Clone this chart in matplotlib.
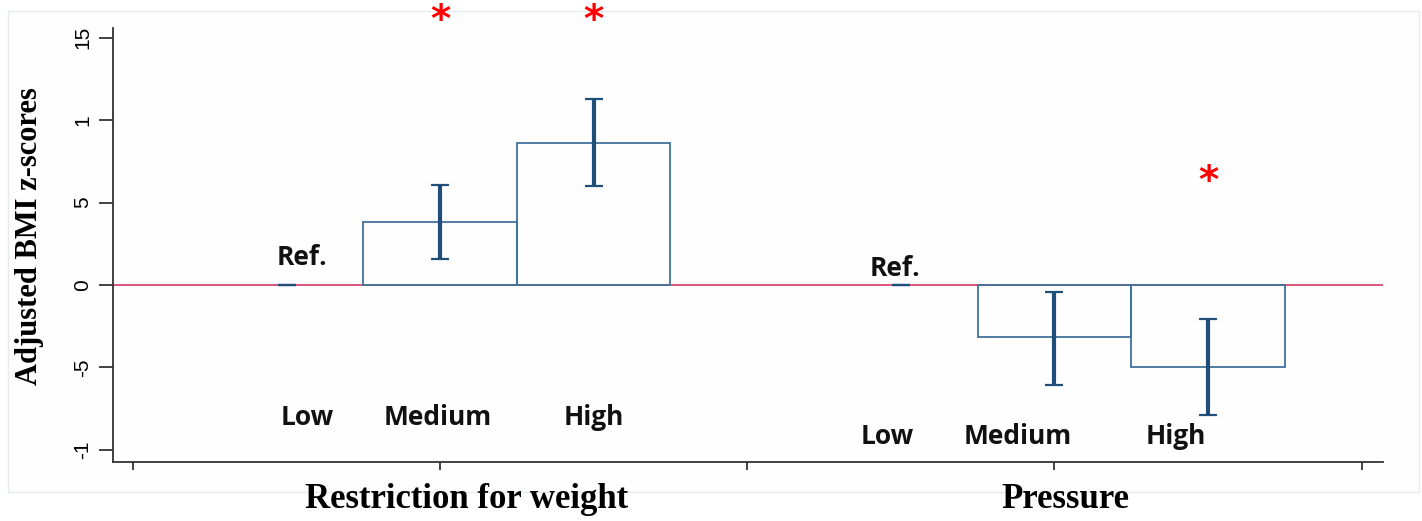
import matplotlib
matplotlib.use("Agg")
import matplotlib.pyplot as plt
from matplotlib.patches import Rectangle

# ---- data ----
groups = ["Restriction for weight", "Pressure"]
levels = ["Low", "Medium", "High"]
restriction_vals = [0.0, 0.384, 0.862]
restriction_lo = [0.0, 0.156, 0.600]
restriction_hi = [0.0, 0.606, 1.125]
pressure_vals = [0.0, -0.316, -0.495]
pressure_lo = [0.0, -0.606, -0.788]
pressure_hi = [0.0, -0.040, -0.208]
ytick_vals = [-1, -0.5, 0, 0.5, 1, 1.5]
ytick_labels = ["-1", "-5", "0", "5", "1", "15"]
ref_label = "Ref."
star = "*"

W, H = 1422, 521
fig = plt.figure(figsize=(W / 100, H / 100), dpi=100)
fig.patch.set_facecolor("white")
fig.add_artist(Rectangle((8 / W, 1 - 492 / H), (1419 - 8) / W, (492 - 11) / H,
                         transform=fig.transFigure, facecolor="#fefefe",
                         edgecolor="#e4ecee", lw=1.0, zorder=0))

ax = fig.add_axes([113 / W, 1 - 462 / H, (1383 - 113) / W, (462 - 28) / H])
ax.set_facecolor("none")
ax.set_xlim(-0.065, 4.07)
ax.set_ylim(-1.073, 1.558)

for s in ["top", "right"]:
    ax.spines[s].set_visible(False)
for s in ["left", "bottom"]:
    ax.spines[s].set_color("#333333")
    ax.spines[s].set_linewidth(1.3)

ax.axhline(0, color="#d9466c", lw=1.3, zorder=1)

bar_w = 0.5
edge = "#41719c"
err_c = "#1f4e79"
group_x = [[0.5, 1.0, 1.5], [2.5, 3.0, 3.5]]
all_vals = [restriction_vals, pressure_vals]
all_lo = [restriction_lo, pressure_lo]
all_hi = [restriction_hi, pressure_hi]
for xs, vals, lo, hi in zip(group_x, all_vals, all_lo, all_hi):
    bx = [x for x, v in zip(xs, vals) if v != 0]
    bv = [v for v in vals if v != 0]
    ax.bar(bx, bv, width=bar_w, facecolor="none", edgecolor=edge,
           linewidth=1.3, zorder=2)
    yerr = [[v - l for v, l in zip(vals, lo)], [h - v for v, h in zip(vals, hi)]]
    ax.errorbar(xs, vals, yerr=yerr, fmt="none", ecolor=err_c, elinewidth=3,
                capsize=6.2, capthick=1.6, zorder=3)

ax.set_xticks([0, 1, 2, 3, 4])
ax.set_xticklabels([])
ax.tick_params(axis="x", direction="out", length=6, width=1.3, color="#333333")
ax.set_yticks(ytick_vals)
ax.set_yticklabels(ytick_labels, rotation=90, va="center",
                   family="Liberation Sans", fontsize=15, color="black")
ax.tick_params(axis="y", direction="out", length=10, width=1.3,
               color="#333333", pad=5)

ax.set_ylabel("Adjusted BMI z-scores", family="Liberation Serif",
              fontweight="bold", fontsize=22)
ax.yaxis.set_label_coords(-(113 - 44) / 1270, 0.52)

lab_font = dict(family="Open Sans", fontweight="bold", fontsize=19,
                color="#111111", ha="center", va="center")
ax.text(0.55, 0.164, ref_label, **lab_font)
ax.text(2.48, 0.103, ref_label, **lab_font)
for x, t in zip([0.566, 0.993, 1.50], levels):
    ax.text(x, -0.803, t, **lab_font)
for x, t in zip([2.457, 2.88, 3.395], levels):
    ax.text(x, -0.921, t, **lab_font)

cat_font = dict(family="Liberation Serif", fontweight="bold", fontsize=25,
                color="black", ha="center", va="center", clip_on=False)
ax.text(1.087, -1.30, groups[0], **cat_font)
ax.text(3.037, -1.30, groups[1], **cat_font)

star_font = dict(color="#ff0000", fontsize=28, fontweight="bold", ha="center",
                 va="center", family="DejaVu Sans", clip_on=False)
ax.text(1.0, 1.60, star, **star_font)
ax.text(1.5, 1.60, star, **star_font)
ax.text(3.5, 0.625, star, **star_font)

fig.savefig("out.png", dpi=100)
